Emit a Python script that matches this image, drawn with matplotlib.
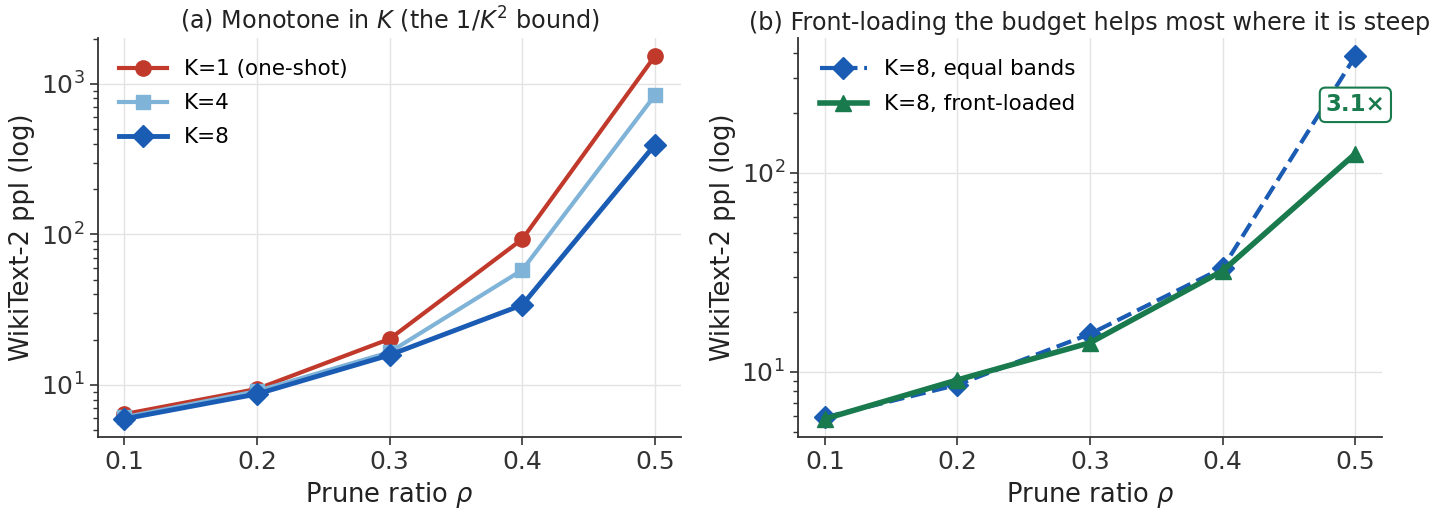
import numpy as np
import matplotlib
matplotlib.use("Agg")
import matplotlib.pyplot as plt

# ---- data ----
rho = [0.1, 0.2, 0.3, 0.4, 0.5]
k1_one_shot = [6.4, 9.4, 20.2, 93, 1530]
k4 = [6.1, 9.1, 16.5, 58, 840]
k8 = [5.95, 8.7, 15.8, 34, 394]

k8_equal = [5.9, 8.6, 15.5, 33.3, 387]
k8_front = [5.8, 9.1, 14.0, 32.2, 125]
speedup_label = "3.1\u00d7"

RED = "#c0392b"
LBLUE = "#7fb3d8"
BLUE = "#1a5cb4"
GREEN = "#187a4d"

plt.rcParams['font.family'] = ['DejaVu Sans']
fig, axes = plt.subplots(1, 2, figsize=(14.38, 5.19), dpi=100)
fig.subplots_adjust(left=0.068, right=0.961, bottom=0.158, top=0.927, wspace=0.2)

TICK_FS = 18
LABEL_FS = 18.5
TITLE_FS = 17.2
LEG_FS = 15.5

ax = axes[0]
ax.plot(rho, k1_one_shot, color=RED, lw=3, marker='o', ms=11, label='K=1 (one-shot)')
ax.plot(rho, k4, color=LBLUE, lw=3, marker='s', ms=10, label='K=4')
ax.plot(rho, k8, color=BLUE, lw=3.5, marker='D', ms=11, label='K=8')
ax.set_title(r"(a) Monotone in $K$ (the $1/K^2$ bound)", fontsize=TITLE_FS, color='#222222')
ax.legend(loc='upper left', frameon=False, fontsize=LEG_FS, handlelength=2.2,
          borderaxespad=0.6, labelspacing=0.65)

ax = axes[1]
ax.plot(rho, k8_equal, color=BLUE, lw=3, ls='--', marker='D', ms=11, label='K=8, equal bands')
ax.plot(rho, k8_front, color=GREEN, lw=4, marker='^', ms=12, label='K=8, front-loaded')
ax.set_title("(b) Front-loading the budget helps most where it is steep", fontsize=TITLE_FS, color='#222222')
ax.legend(loc='upper left', frameon=False, fontsize=LEG_FS, handlelength=2.2,
          borderaxespad=0.6, labelspacing=0.7)
ax.annotate(speedup_label, xy=(rho[-1], np.sqrt(k8_equal[-1] * k8_front[-1])),
            ha='center', va='center', fontsize=16.5, fontweight='bold', color=GREEN,
            bbox=dict(boxstyle='round,pad=0.25', fc='white', ec=GREEN, lw=1.5))

for ax in axes:
    ax.set_yscale('log')
    ax.set_xticks(rho)
    ax.set_xticklabels([f"{r:.1f}" for r in rho])
    ax.set_xlabel(r"Prune ratio $\rho$", fontsize=LABEL_FS, color='#222222')
    ax.set_ylabel("WikiText-2 ppl (log)", fontsize=LABEL_FS, color='#222222')
    ax.tick_params(axis='both', which='major', labelsize=TICK_FS, length=6, width=1.2,
                   color='#333333', labelcolor='#333333')
    ax.tick_params(axis='y', which='minor', length=3.5, width=1, color='#333333')
    ax.grid(True, which='major', color='#e3e3e3', lw=1)
    ax.set_axisbelow(True)
    for s in ['top', 'right']:
        ax.spines[s].set_visible(False)
    for s in ['left', 'bottom']:
        ax.spines[s].set_linewidth(1.3)
        ax.spines[s].set_color('#333333')

fig.savefig("out.png", dpi=100)
